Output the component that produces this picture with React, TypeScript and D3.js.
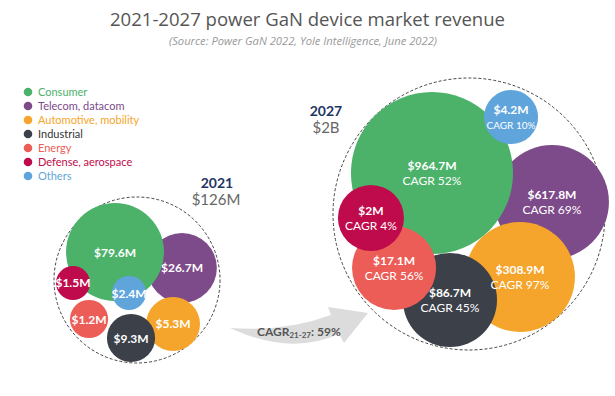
import React from "react";
import * as d3 from "d3";

// segments, in legend order
const categories = [
  "Consumer",
  "Telecom, datacom",
  "Automotive, mobility",
  "Industrial",
  "Energy",
  "Defense, aerospace",
  "Others",
];
const colors = ["#4cb26a", "#7d4a8a", "#f5a52c", "#3b4049", "#ec5d57", "#bf0b4b", "#5fa5dc"];
const legendColors = ["#4cb26a", "#7d4a8a", "#f5a52c", "#333333", "#ec5d57", "#bf0b4b", "#5fa5dc"];

// revenue in $M
const values2021 = [79.6, 26.7, 5.3, 9.3, 1.2, 1.5, 2.4];
const values2027 = [964.7, 617.8, 308.9, 86.7, 17.1, 2, 4.2];
const cagr2027 = [52, 69, 97, 45, 56, 4, 10];

const total2021 = "$126M";
const total2027 = "$2B";
const cagrTotal = "59%";

// bubble placement inside each enclosing circle (unit radius = 1): [dx, dy, r]
const layout2021 = [
  [-0.265, -0.337, 0.59],
  [0.542, -0.145, 0.42],
  [0.434, 0.53, 0.325],
  [-0.072, 0.699, 0.29],
  [-0.578, 0.47, 0.23],
  [-0.771, 0.036, 0.205],
  [-0.096, 0.157, 0.205],
];
const layout2027 = [
  [-0.272, -0.301, 0.596],
  [0.61, -0.088, 0.419],
  [0.375, 0.463, 0.404],
  [-0.14, 0.632, 0.346],
  [-0.551, 0.397, 0.309],
  [-0.721, 0.029, 0.243],
  [0.309, -0.713, 0.199],
];
const drawOrder = [1, 0, 2, 3, 4, 5, 6];

const W = 615;
const H = 396;
const bubbleFont = "Lato, 'Open Sans', sans-serif";

function Cluster({ cx, cy, R, values, layout, cagr }) {
  const x = d3.scaleLinear().domain([-1, 1]).range([cx - R, cx + R]);
  const y = d3.scaleLinear().domain([-1, 1]).range([cy - R, cy + R]);
  const r = d3.scaleLinear().domain([0, 1]).range([0, R]);
  const fmt = (v) => `$${v}M`;

  return (
    <g>
      <circle cx={cx} cy={cy} r={R} fill="none" stroke="#444" strokeWidth={1} strokeDasharray="3,2" />
      {drawOrder.map((i) => {
        const [dx, dy, rr] = layout[i];
        return <circle key={"c" + i} cx={x(dx)} cy={y(dy)} r={r(rr)} fill={colors[i]} />;
      })}
      {drawOrder.map((i) => {
        const [dx, dy, rr] = layout[i];
        const small = r(rr) < 30;
        return cagr ? (
          <text key={"t" + i} textAnchor="middle" fill="#fff" fontFamily={bubbleFont}>
            <tspan x={x(dx)} y={y(dy) - 3} fontWeight={700} fontSize={12}>
              {fmt(values[i])}
            </tspan>
            <tspan x={x(dx)} y={y(dy) + 12} fontSize={small ? 10 : 12}>
              {`CAGR ${cagr[i]}%`}
            </tspan>
          </text>
        ) : (
          <text
            key={"t" + i}
            x={x(dx)}
            y={y(dy) + 4.5}
            textAnchor="middle"
            fill="#fff"
            fontFamily={bubbleFont}
            fontWeight={700}
            fontSize={12}
          >
            {fmt(values[i])}
          </text>
        );
      })}
    </g>
  );
}

export default function App() {
  const legendY = d3.scalePoint().domain(categories).range([92, 176]);

  const arrow = d3.path();
  arrow.moveTo(230, 328);
  arrow.quadraticCurveTo(285, 332, 331, 315);
  arrow.lineTo(328, 307);
  arrow.lineTo(368, 313);
  arrow.lineTo(344, 343);
  arrow.lineTo(339, 334);
  arrow.quadraticCurveTo(290, 356, 230, 328);
  arrow.closePath();

  return (
    <svg
      width={W}
      height={H}
      style={{ position: "absolute", left: 0, top: 0, background: "#fff" }}
    >
      <text
        x={W / 2}
        y={26}
        textAnchor="middle"
        fontFamily="'Open Sans', sans-serif"
        fontSize={19}
        fill="#555"
        textLength={395}
        lengthAdjust="spacingAndGlyphs"
      >
        2021-2027 power GaN device market revenue
      </text>
      <text
        x={303}
        y={45}
        textAnchor="middle"
        fontFamily="'Open Sans', sans-serif"
        fontStyle="italic"
        fontSize={10}
        fill="#999"
        textLength={268}
        lengthAdjust="spacingAndGlyphs"
      >
        (Source: Power GaN 2022, Yole Intelligence, June 2022)
      </text>

      {categories.map((c, i) => (
        <g key={c}>
          <circle cx={28} cy={legendY(c)} r={4.3} fill={colors[i]} />
          <text
            x={38}
            y={legendY(c) + 4}
            fontFamily={bubbleFont}
            fontSize={11}
            fill={legendColors[i]}
          >
            {c}
          </text>
        </g>
      ))}

      <path d={arrow.toString()} fill="#dcdcdc" />
      <text x={257} y={336} fontFamily={bubbleFont} fontWeight={700} fontSize={12} fill="#555">
        CAGR
        <tspan fontSize={8} dy={2}>21-27</tspan>
        <tspan dy={-2}>{`: ${cagrTotal}`}</tspan>
      </text>

      <Cluster cx={137} cy={280} R={83} values={values2021} layout={layout2021} />
      <text x={217} y={188} textAnchor="middle" fontFamily={bubbleFont} fontWeight={700} fontSize={14} fill="#1f3564">
        2021
      </text>
      <text x={216} y={205} textAnchor="middle" fontFamily={bubbleFont} fontSize={15} fill="#666">
        {total2021}
      </text>

      <Cluster cx={469} cy={214} R={136} values={values2027} layout={layout2027} cagr={cagr2027} />
      <text x={326} y={116} textAnchor="middle" fontFamily={bubbleFont} fontWeight={700} fontSize={14} fill="#1f3564">
        2027
      </text>
      <text x={326} y={133} textAnchor="middle" fontFamily={bubbleFont} fontSize={15} fill="#666">
        {total2027}
      </text>
    </svg>
  );
}
